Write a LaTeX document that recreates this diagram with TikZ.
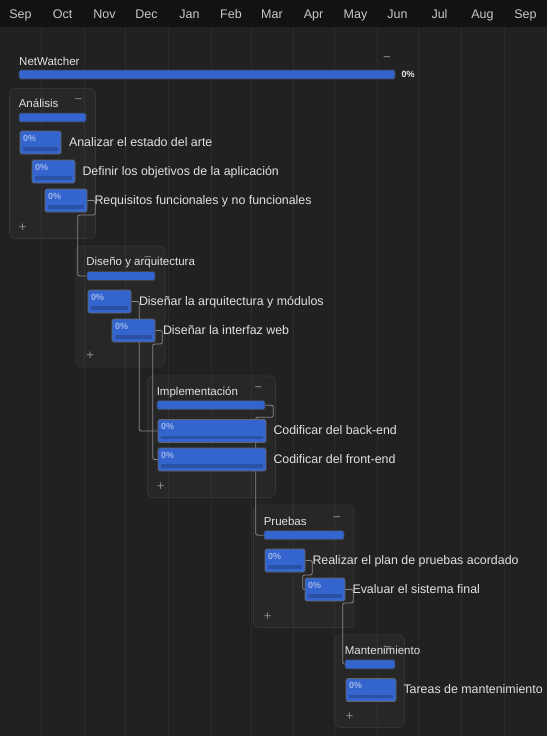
\documentclass[tikz,border=0pt]{standalone}
\usepackage{fontspec}
\setmainfont{Liberation Sans}
\usetikzlibrary{positioning}

\definecolor{headbg}{HTML}{121212}
\definecolor{bodybg}{HTML}{212121}
\definecolor{gridc}{HTML}{2C2C2C}
\definecolor{groupln}{HTML}{353535}
\definecolor{barblue}{HTML}{3465CE}
\definecolor{trackblue}{HTML}{2B51A6}
\definecolor{pctc}{HTML}{9DB5EA}
\definecolor{txtc}{HTML}{E2E2E2}
\definecolor{monthc}{HTML}{C8C8C8}
\definecolor{iconc}{HTML}{8C8C8C}
\definecolor{linkc}{HTML}{8A8A8A}

\pgfdeclarelayer{back}
\pgfdeclarelayer{links}
\pgfsetlayers{back,links,main}

\begin{document}
\begin{tikzpicture}[%
      x=1pt, y=-1pt,
      month/.style={text=monthc, font=\fontsize{12.5}{14}\selectfont, anchor=base, inner sep=0pt},
      groupbox/.style={draw=groupln, fill=white, fill opacity=0.03, line width=0.8pt, rounded corners=6pt, inner sep=0pt},
      sumbar/.style={fill=barblue, draw=black!75, line width=0.6pt, rounded corners=1.5pt, minimum height=9pt, inner sep=0pt},
      taskbox/.style={fill=barblue, draw=black!60, line width=0.6pt, rounded corners=1.5pt, minimum height=23pt, inner sep=0pt},
      track/.style={fill=trackblue},
      pct/.style={text=pctc, font=\bfseries\fontsize{9}{10}\selectfont, anchor=base west, inner sep=0pt},
      grouplbl/.style={text=txtc, font=\fontsize{11.5}{13}\selectfont, anchor=base west, inner sep=0pt},
      tasklbl/.style={text=txtc, font=\fontsize{12.4}{14}\selectfont, anchor=base west, inner sep=0pt},
      icon/.style={text=iconc, font=\fontsize{13}{14}\selectfont, anchor=base, inner sep=0pt},
      link/.style={draw=linkc, line width=0.8pt, rounded corners=2pt},
      ]
      \useasboundingbox (0,0) rectangle (547,736);

      \begin{pgfonlayer}{back}
      \fill [bodybg] (0,0) rectangle (547,736);
      \fill [headbg] (0,0) rectangle (547,27);
      \draw [gridc] (41,27) -- (41,736);
      \draw [gridc] (84,27) -- (84,736);
      \draw [gridc] (125,27) -- (125,736);
      \draw [gridc] (168,27) -- (168,736);
      \draw [gridc] (211,27) -- (211,736);
      \draw [gridc] (251,27) -- (251,736);
      \draw [gridc] (293,27) -- (293,736);
      \draw [gridc] (334,27) -- (334,736);
      \draw [gridc] (377,27) -- (377,736);
      \draw [gridc] (418,27) -- (418,736);
      \draw [gridc] (461,27) -- (461,736);
      \draw [gridc] (504,27) -- (504,736);

      \node [groupbox, minimum width=86pt, minimum height=150pt] (gAna) at (52.5,163.5) {};
      \node [groupbox, minimum width=89pt, minimum height=121pt] (gDis) at (120.5,306.5) {};
      \node [groupbox, minimum width=128pt, minimum height=121.5pt] (gImp) at (211.5,436.75) {};
      \node [groupbox, minimum width=100.5pt, minimum height=122.5pt] (gPru) at (303.75,566.25) {};
      \node [groupbox, minimum width=69.5pt, minimum height=92.5pt] (gMan) at (369.75,681.25) {};
      \end{pgfonlayer}

      \node [month] (mSep) at (20.5,18) {Sep};
      \node [month] (mOct) at (62.5,18) {Oct};
      \node [month] (mNov) at (104.5,18) {Nov};
      \node [month] (mDec) at (146.5,18) {Dec};
      \node [month] (mJan) at (189.5,18) {Jan};
      \node [month] (mFeb) at (231,18) {Feb};
      \node [month] (mMar) at (272,18) {Mar};
      \node [month] (mApr) at (313.5,18) {Apr};
      \node [month] (mMay) at (355.5,18) {May};
      \node [month] (mJun) at (397.5,18) {Jun};
      \node [month] (mJul) at (439.5,18) {Jul};
      \node [month] (mAug) at (482.5,18) {Aug};
      \node [month] (mSep2) at (525.5,18) {Sep};

      \node [grouplbl] (nwLbl) at (19,65) {NetWatcher};
      \node [icon] (nwMinus) at (387,61.8) {−};
      \node [sumbar, minimum width=376pt] (nwBar) at (207,74.5) {};
      \node [pct, text=white!92!black] (nwPct) at (401.5,77) {0\%};

      \node [grouplbl] (aLbl) at ([xshift=9.5pt,yshift=-19.5pt]gAna.north west) {Análisis};
      \node [icon] (aMinus) at ([xshift=-17.5pt,yshift=-15.5pt]gAna.north east) {−};
      \node [icon] (aPlus) at ([xshift=13.5pt,yshift=7.7pt]gAna.south west) {+};
      \node [grouplbl] (dLbl) at ([xshift=10.5pt,yshift=-19.5pt]gDis.north west) {Diseño y arquitectura};
      \node [icon] (dMinus) at ([xshift=-17.5pt,yshift=-15.5pt]gDis.north east) {−};
      \node [icon] (dPlus) at ([xshift=14.5pt,yshift=7.7pt]gDis.south west) {+};
      \node [grouplbl] (iLbl) at ([xshift=9.5pt,yshift=-19.5pt]gImp.north west) {Implementación};
      \node [icon] (iMinus) at ([xshift=-17.5pt,yshift=-15.5pt]gImp.north east) {−};
      \node [icon] (iPlus) at ([xshift=13.5pt,yshift=7.7pt]gImp.south west) {+};
      \node [grouplbl] (pLbl) at ([xshift=10.5pt,yshift=-20.5pt]gPru.north west) {Pruebas};
      \node [icon] (pMinus) at ([xshift=-17.5pt,yshift=-16.5pt]gPru.north east) {−};
      \node [icon] (pPlus) at ([xshift=14.5pt,yshift=7.7pt]gPru.south west) {+};
      \node [grouplbl] (mLbl) at ([xshift=10pt,yshift=-20pt]gMan.north west) {Mantenimiento};
      \node [icon] (mMinus) at ([xshift=-17pt,yshift=-16.5pt]gMan.north east) {−};
      \node [icon] (mPlus) at ([xshift=15pt,yshift=7.7pt]gMan.south west) {+};

      \node [sumbar, minimum width=67pt] (aBar) at (52.5,117.5) {};
      \node [sumbar, minimum width=68pt] (dBar) at (121,276) {};
      \node [sumbar, minimum width=108pt] (iBar) at (211,405.2) {};
      \node [sumbar, minimum width=80pt] (pBar) at (304,535.2) {};
      \node [sumbar, minimum width=50pt] (mBar) at (370,664.3) {};

      \node [taskbox, minimum width=41pt] (a1) at (40.5,142.5) {};
      \node [taskbox, minimum width=43pt] (a2) at (53.5,171.5) {};
      \node [taskbox, minimum width=42pt] (a3) at (66,200.5) {};
      \node [taskbox, minimum width=43pt] (d1) at (109.5,301.5) {};
      \node [taskbox, minimum width=43pt] (d2) at (133.5,330.5) {};
      \node [taskbox, minimum width=108pt] (i1) at (212,431) {};
      \node [taskbox, minimum width=108pt] (i2) at (212,459.5) {};
      \node [taskbox, minimum width=40pt] (p1) at (285,560.5) {};
      \node [taskbox, minimum width=40pt] (p2) at (325,589.5) {};
      \node [taskbox, minimum width=50pt] (m1) at (371,690) {};

      \fill [track] ([xshift=3pt,yshift=3.5pt]a1.south west) rectangle ([xshift=-3pt,yshift=7pt]a1.south east);
      \fill [track] ([xshift=3pt,yshift=3.5pt]a2.south west) rectangle ([xshift=-3pt,yshift=7pt]a2.south east);
      \fill [track] ([xshift=3pt,yshift=3.5pt]a3.south west) rectangle ([xshift=-3pt,yshift=7pt]a3.south east);
      \fill [track] ([xshift=3pt,yshift=3.5pt]d1.south west) rectangle ([xshift=-3pt,yshift=7pt]d1.south east);
      \fill [track] ([xshift=3pt,yshift=3.5pt]d2.south west) rectangle ([xshift=-3pt,yshift=7pt]d2.south east);
      \fill [track] ([xshift=3pt,yshift=3.5pt]i1.south west) rectangle ([xshift=-3pt,yshift=7pt]i1.south east);
      \fill [track] ([xshift=3pt,yshift=3.5pt]i2.south west) rectangle ([xshift=-3pt,yshift=7pt]i2.south east);
      \fill [track] ([xshift=3pt,yshift=3.5pt]p1.south west) rectangle ([xshift=-3pt,yshift=7pt]p1.south east);
      \fill [track] ([xshift=3pt,yshift=3.5pt]p2.south west) rectangle ([xshift=-3pt,yshift=7pt]p2.south east);
      \fill [track] ([xshift=3pt,yshift=3.5pt]m1.south west) rectangle ([xshift=-3pt,yshift=7pt]m1.south east);

      \node [pct] (a1p) at ([xshift=3.3pt,yshift=-10.7pt]a1.north west) {0\%};
      \node [pct] (a2p) at ([xshift=3.3pt,yshift=-10.7pt]a2.north west) {0\%};
      \node [pct] (a3p) at ([xshift=3.3pt,yshift=-10.7pt]a3.north west) {0\%};
      \node [pct] (d1p) at ([xshift=3.3pt,yshift=-10.7pt]d1.north west) {0\%};
      \node [pct] (d2p) at ([xshift=3.3pt,yshift=-10.7pt]d2.north west) {0\%};
      \node [pct] (i1p) at ([xshift=3.3pt,yshift=-10.7pt]i1.north west) {0\%};
      \node [pct] (i2p) at ([xshift=3.3pt,yshift=-10.7pt]i2.north west) {0\%};
      \node [pct] (p1p) at ([xshift=3.3pt,yshift=-10.7pt]p1.north west) {0\%};
      \node [pct] (p2p) at ([xshift=3.3pt,yshift=-10.7pt]p2.north west) {0\%};
      \node [pct] (m1p) at ([xshift=3.3pt,yshift=-10.7pt]m1.north west) {0\%};

      \node [tasklbl] (a1t) at ([xshift=7.5pt,yshift=-3.7pt]a1.east) {Analizar el estado del arte};
      \node [tasklbl] (a2t) at ([xshift=7pt,yshift=-3.7pt]a2.east) {Definir los objetivos de la aplicación};
      \node [tasklbl] (a3t) at ([xshift=7pt,yshift=-3.7pt]a3.east) {Requisitos funcionales y no funcionales};
      \node [tasklbl] (d1t) at ([xshift=7.5pt,yshift=-3.7pt]d1.east) {Diseñar la arquitectura y módulos};
      \node [tasklbl] (d2t) at ([xshift=7.5pt,yshift=-3.7pt]d2.east) {Diseñar la interfaz web};
      \node [tasklbl] (i1t) at ([xshift=7pt,yshift=-3.7pt]i1.east) {Codificar del back-end};
      \node [tasklbl] (i2t) at ([xshift=7pt,yshift=-3.7pt]i2.east) {Codificar del front-end};
      \node [tasklbl] (p1t) at ([xshift=7pt,yshift=-3.7pt]p1.east) {Realizar el plan de pruebas acordado};
      \node [tasklbl] (p2t) at ([xshift=7pt,yshift=-3.7pt]p2.east) {Evaluar el sistema final};
      \node [tasklbl] (m1t) at ([xshift=7pt,yshift=-3.7pt]m1.east) {Tareas de mantenimiento};

      \begin{pgfonlayer}{links}
      \draw [link] (a3.east) -- ++(8,0) -- ++(0,14.5) -| ([xshift=-9pt]dBar.west) -- (dBar.west);
      \draw [link] (d1.east) -- ++(8,0) |- (i1.west);
      \draw [link] (d2.east) -- ++(7,0) -- ++(0,13.5) -| ([xshift=-5pt]i2.west) -- (i2.west);
      \draw [link] (iBar.east) -- ++(8,0) -- ++(0,12) -| ([xshift=-8pt]pBar.west) -- (pBar.west);
      \draw [link] (p1.east) -- ++(7,0) -- ++(0,14.5) -| ([xshift=-2pt]p2.west) -- (p2.west);
      \draw [link] (p2.east) -- ++(8,0) -- ++(0,13.5) -| ([xshift=-2pt]mBar.west) -- (mBar.west);
      \end{pgfonlayer}
      \end{tikzpicture}
\end{document}
